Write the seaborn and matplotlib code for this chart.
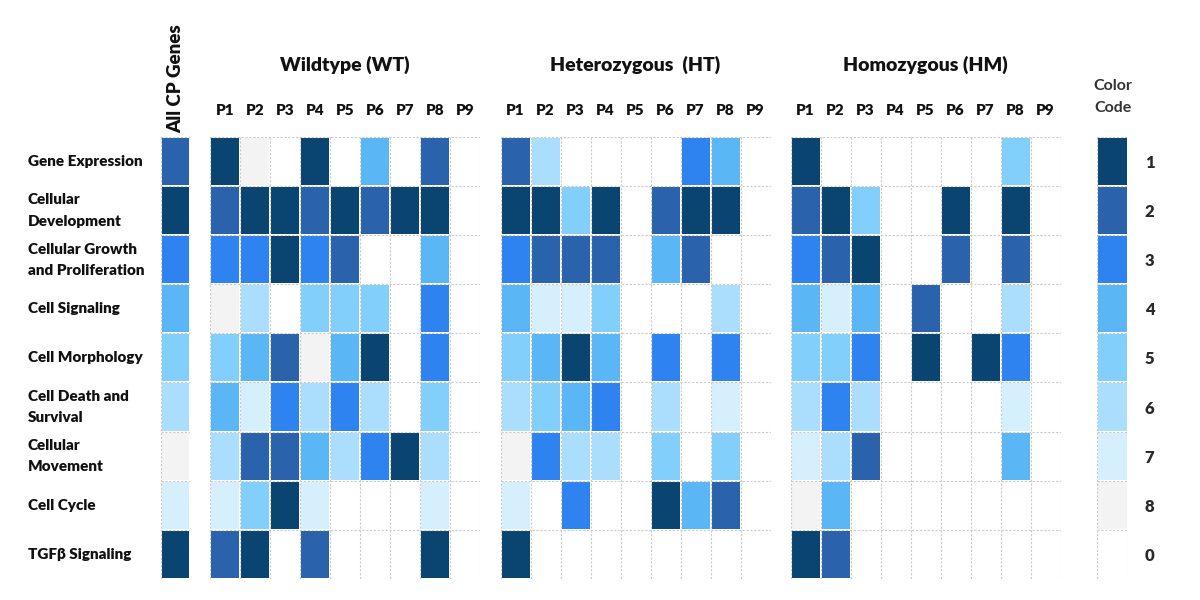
import pandas as pd
import matplotlib.pyplot as plt
from matplotlib.colors import ListedColormap
import seaborn as sns

plt.rcParams['font.family'] = ['Lato', 'DejaVu Sans']

categories = ['Gene Expression', 'Cellular\nDevelopment', 'Cellular Growth\nand Proliferation',
              'Cell Signaling', 'Cell Morphology', 'Cell Death and\nSurvival',
              'Cellular\nMovement', 'Cell Cycle', 'TGFβ Signaling']
patterns = ['P1', 'P2', 'P3', 'P4', 'P5', 'P6', 'P7', 'P8', 'P9']

# colour code per cell (0 = none)
all_cp = [2, 1, 3, 4, 5, 6, 8, 7, 1]

wt = [[1, 8, 0, 1, 0, 4, 0, 2, 0],
      [2, 1, 1, 2, 1, 2, 1, 1, 0],
      [3, 3, 1, 3, 2, 0, 0, 4, 0],
      [8, 6, 0, 5, 5, 5, 0, 3, 0],
      [5, 4, 2, 8, 4, 1, 0, 3, 0],
      [4, 7, 3, 6, 3, 6, 0, 5, 0],
      [6, 2, 2, 4, 6, 3, 1, 6, 0],
      [7, 5, 1, 7, 0, 0, 0, 7, 0],
      [2, 1, 0, 2, 0, 0, 0, 1, 0]]

ht = [[2, 6, 0, 0, 0, 0, 3, 4, 0],
      [1, 1, 5, 1, 0, 2, 1, 1, 0],
      [3, 2, 2, 2, 0, 4, 2, 0, 0],
      [4, 7, 7, 5, 0, 0, 0, 6, 0],
      [5, 4, 1, 4, 0, 3, 0, 3, 0],
      [6, 5, 4, 3, 0, 6, 0, 7, 0],
      [8, 3, 6, 6, 0, 5, 0, 5, 0],
      [7, 0, 3, 0, 0, 1, 4, 2, 0],
      [1, 0, 0, 0, 0, 0, 0, 0, 0]]

hm = [[1, 0, 0, 0, 0, 0, 0, 5, 0],
      [2, 1, 5, 0, 0, 1, 0, 1, 0],
      [3, 2, 1, 0, 0, 2, 0, 2, 0],
      [4, 7, 4, 0, 2, 0, 0, 6, 0],
      [5, 5, 3, 0, 1, 0, 1, 3, 0],
      [6, 3, 6, 0, 0, 0, 0, 7, 0],
      [7, 6, 2, 0, 0, 0, 0, 4, 0],
      [8, 4, 0, 0, 0, 0, 0, 0, 0],
      [1, 2, 0, 0, 0, 0, 0, 0, 0]]

code_levels = [1, 2, 3, 4, 5, 6, 7, 8, 0]

# colours for code 0..8
code_colors = ['#ffffff', '#0a4470', '#2a63ab', '#2e83f0', '#5bb6f5',
               '#82cffb', '#abdefc', '#d6effc', '#f3f3f3']
cmap = ListedColormap(code_colors)
txt = '#111111'
wt_font = 'heavy'


def draw(ax, df):
    sns.heatmap(df, ax=ax, cmap=cmap, vmin=-0.5, vmax=8.5, cbar=False,
                linewidths=1.2, linecolor='white')
    nr, nc = df.shape
    ax.hlines(range(nr + 1), 0, nc, colors='#c9c9c9', lw=0.8,
              linestyles=(0, (2, 1.5)), zorder=5)
    ax.vlines(range(nc + 1), 0, nr, colors='#c9c9c9', lw=0.8,
              linestyles=(0, (2, 1.5)), zorder=5)
    ax.set_xlabel('')
    ax.set_ylabel('')
    ax.xaxis.tick_top()
    ax.tick_params(length=0)


fig = plt.figure(figsize=(12, 6), dpi=100)
bottom, height = 0.035, 0.737

# All CP genes
ax0 = fig.add_axes([0.1342, bottom, 0.0242, height])
draw(ax0, pd.DataFrame({'All CP Genes': all_cp}, index=categories))
ax0.set_xticklabels(['All CP Genes'], rotation=90, fontsize=13.5,
                    fontweight=wt_font, color=txt)
ax0.tick_params(axis='x', pad=3)
ax0.set_yticklabels(categories, rotation=0, ha='left', fontsize=11,
                    fontweight=wt_font, color=txt, linespacing=1.75)
ax0.tick_params(axis='y', pad=96)

groups = [('Wildtype (WT)', wt, 0.175),
          ('Heterozygous  (HT)', ht, 0.4171),
          ('Homozygous (HM)', hm, 0.6588)]
for title, vals, left in groups:
    ax = fig.add_axes([left, bottom, 0.225, height])
    draw(ax, pd.DataFrame(vals, index=categories, columns=patterns))
    ax.set_xticklabels(patterns, rotation=0, fontsize=11,
                       fontweight=wt_font, color=txt)
    ax.tick_params(axis='x', pad=14)
    ax.set_yticks([])
    ax.text(0.5, 1.163, title, transform=ax.transAxes, ha='center',
            va='center', fontsize=14, fontweight=wt_font, color=txt)

# colour code key
axc = fig.add_axes([0.9142, bottom, 0.0258, height])
draw(axc, pd.DataFrame({'code': code_levels}, index=code_levels))
axc.set_xticks([])
axc.yaxis.tick_right()
axc.set_yticklabels([str(c) for c in code_levels], rotation=0,
                    fontsize=12, fontweight=wt_font, color='#2a2a2a')
axc.tick_params(axis='y', pad=12)
axc.text(0.5, 1.09, 'Color\nCode', transform=axc.transAxes, ha='center',
         va='center', fontsize=11.5, fontweight='bold', color='#333333',
         linespacing=1.8)

plt.savefig('out.png', dpi=100)
